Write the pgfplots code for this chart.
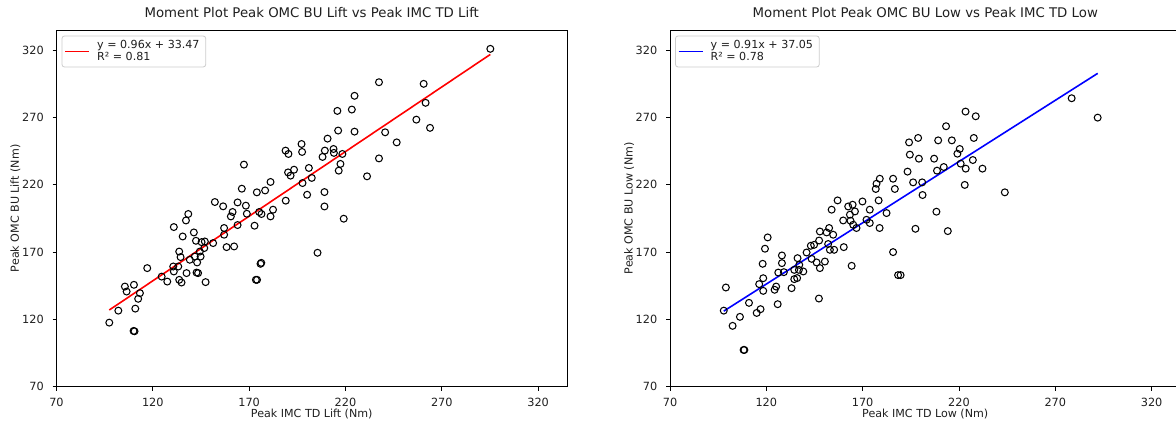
\documentclass[border=0pt]{standalone}
\usepackage{pgfplots}
\usepackage{pgfplotstable}
\pgfplotsset{compat=1.18}
\usepackage{fontspec}
\setmainfont{DejaVu Sans}

\pgfplotstableread{
x y
97.4 117.6
102.1 126.5
105.5 144.4
106.4 140.7
110.2 145.7
110.9 128.0
110.0 111.4
110.5 111.2
112.4 135.3
113.3 139.5
117.1 158.1
124.6 151.8
127.5 148.1
130.9 188.6
130.6 159.3
130.9 155.6
133.2 159.3
133.7 170.4
135.5 181.6
134.4 166.3
133.7 149.4
134.9 147.4
137.5 154.4
137.2 193.5
138.4 198.3
139.2 164.3
141.3 184.6
141.8 166.7
142.4 178.4
142.7 154.8
143.5 154.4
143.0 162.3
144.4 170.4
144.8 166.7
145.3 177.4
146.7 173.0
147.0 177.9
147.4 147.7
151.3 176.7
152.2 207.2
156.5 204.0
157.0 187.9
157.0 182.9
158.3 173.7
162.2 174.2
160.5 196.5
161.4 199.8
164.0 206.9
164.0 190.1
166.2 217.1
167.3 235.0
168.3 204.5
168.8 198.5
172.8 189.6
174.0 214.4
175.2 199.8
176.4 198.3
175.9 161.3
176.3 162.0
173.5 149.4
174.1 149.4
178.3 215.8
181.1 222.1
181.1 196.5
182.4 201.5
189.0 208.2
188.9 245.4
190.4 242.9
197.2 250.3
197.5 244.4
190.2 229.2
191.5 226.8
193.3 231.2
197.7 221.3
200.1 212.6
201.0 232.5
202.5 225.1
205.5 169.5
209.1 214.6
209.1 203.9
210.7 254.3
209.3 245.4
213.8 246.6
214.0 243.7
208.1 240.7
218.4 242.9
217.4 235.5
216.5 230.5
215.8 274.9
216.2 260.3
219.1 194.8
223.3 275.9
224.7 286.1
224.7 259.5
231.2 226.3
237.4 239.6
237.4 296.2
240.6 259.0
246.6 251.5
256.8 268.4
260.6 295.0
261.6 280.9
263.9 262.3
295.2 321.0
}\lifttable

\pgfplotstableread{
x y
97.9 126.5
99.0 143.7
102.5 115.2
106.3 121.9
108.2 97.3
108.6 97.3
111.0 132.3
115.0 124.8
117.0 127.6
116.3 146.2
118.4 150.6
118.4 141.2
118.1 161.3
119.3 172.5
120.7 180.9
124.3 142.0
125.1 144.4
125.9 131.3
126.2 154.8
128.1 167.5
128.1 161.8
129.1 155.1
133.1 143.2
134.5 149.9
136.0 150.7
136.2 165.5
137.1 160.5
134.5 156.8
136.9 156.8
139.2 155.6
140.9 169.7
143.1 174.7
144.8 175.4
143.5 165.0
146.1 162.3
147.3 135.5
147.8 158.1
147.4 178.6
147.8 185.3
150.4 163.0
151.3 184.6
152.6 187.9
152.1 176.0
153.0 171.7
155.2 171.7
154.7 182.9
153.9 201.5
157.0 208.4
160.2 173.7
159.9 193.5
162.5 203.9
164.8 205.2
163.4 197.8
166.0 200.2
164.3 159.8
163.7 193.3
165.1 190.3
166.8 187.9
169.9 207.6
172.0 194.0
173.7 201.5
173.7 191.6
178.8 187.9
178.3 208.4
176.8 216.9
177.2 220.8
178.9 224.5
182.4 199.0
185.8 224.5
186.7 216.9
185.8 170.0
188.4 152.9
189.7 152.9
278.5 284.3
223.4 274.4
228.7 270.9
213.3 263.5
194.1 251.5
198.8 254.8
209.2 253.0
216.3 253.0
227.7 254.8
194.5 242.4
199.2 239.4
207.1 239.4
220.4 246.6
219.2 243.1
220.9 235.7
223.5 232.0
227.2 238.4
232.2 232.0
212.1 233.2
208.6 230.5
193.3 229.8
196.2 221.8
200.9 221.8
201.1 212.4
223.0 219.9
243.8 214.4
208.3 200.0
197.4 187.3
214.2 185.6
292.0 269.9
}\lowtable

\pgfplotsset{
  mpl/.style={
    scale only axis,
    width=510.5pt, height=356.7pt,
    anchor=south west,
    xmin=70, xmax=335, ymin=70, ymax=335,
    xtick={70,120,170,220,270,320},
    ytick={70,120,170,220,270,320},
    xtick pos=bottom, ytick pos=left,
    tick align=outside,
    major tick length=3.9pt,
    tick style={black, line width=0.9pt},
    axis line style={black, line width=0.9pt},
    /pgf/number format/assume math mode=true,
    /pgf/number format/1000 sep={},
    every tick label/.append style={font=\fontsize{11.3}{13.5}\selectfont, inner sep=0pt, text=black!88},
    xticklabel style={anchor=base, yshift=-16.2pt},
    yticklabel style={anchor=east, xshift=-8.6pt},
    label style={font=\fontsize{11.1}{13.3}\selectfont, inner sep=0pt, text=black!88},
    xlabel style={at={(axis description cs:0.5,0)}, anchor=base, yshift=-31.3pt},
    ylabel style={at={([xshift=-37.5pt]axis description cs:0,0.5)}, anchor=base, rotate=0},
    title style={at={(axis description cs:0.5,1)}, anchor=base, yshift=6.7pt, inner sep=0pt, font=\fontsize{13.3}{16}\selectfont, text=black!88},
    dots/.style={only marks, mark=o, mark size=3.45pt, mark options={draw=black, line width=1.05pt}},
  },
}

\begin{document}
\begin{tikzpicture}
\begin{axis}[mpl, name=L, at={(56.5pt,36.3pt)},
  title={Moment Plot Peak OMC BU Lift vs Peak IMC TD Lift},
  xlabel={Peak IMC TD Lift (Nm)}, ylabel={Peak OMC BU Lift (Nm)}]
\addplot[dots] table[x=x, y=y] {\lifttable};
\addplot[red, line width=1.6pt] coordinates {(97.4,126.97) (295.2,316.86)};
\end{axis}
\begin{axis}[mpl, name=R, at={(670pt,36.3pt)},
  title={Moment Plot Peak OMC BU Low vs Peak IMC TD Low},
  xlabel={Peak IMC TD Low (Nm)}, ylabel={Peak OMC BU Low (Nm)}]
\addplot[dots] table[x=x, y=y] {\lowtable};
\addplot[blue, line width=1.6pt] coordinates {(97.9,126.14) (292.0,302.77)};
\end{axis}
% legend of the left panel (box, sample line, text), in picture coordinates
\draw[draw=black!20, line width=0.8pt, rounded corners=2.5pt, fill=white]
  (62pt,356pt) rectangle (205.7pt,387pt);
\draw[red, line width=1.6pt] (65pt,371.3pt) -- (89pt,371.3pt);
\node[anchor=base west, inner sep=0pt, text=black!88]
  at (97pt,374.5pt) {\fontsize{11.1}{13.2}\selectfont y = 0.96x + 33.47};
\node[anchor=base west, inner sep=0pt, text=black!88]
  at (97pt,362pt) {\fontsize{11.1}{13.2}\selectfont R² = 0.81};
% legend of the right panel
\draw[draw=black!20, line width=0.8pt, rounded corners=2.5pt, fill=white]
  (675.5pt,356pt) rectangle (819.2pt,387pt);
\draw[blue, line width=1.6pt] (678.5pt,371.3pt) -- (702.5pt,371.3pt);
\node[anchor=base west, inner sep=0pt, text=black!88]
  at (710.5pt,374.5pt) {\fontsize{11.1}{13.2}\selectfont y = 0.91x + 37.05};
\node[anchor=base west, inner sep=0pt, text=black!88]
  at (710.5pt,362pt) {\fontsize{11.1}{13.2}\selectfont R² = 0.78};
\pgfresetboundingbox
\useasboundingbox (0,0) rectangle (1176pt,423pt);
\end{tikzpicture}
\end{document}
